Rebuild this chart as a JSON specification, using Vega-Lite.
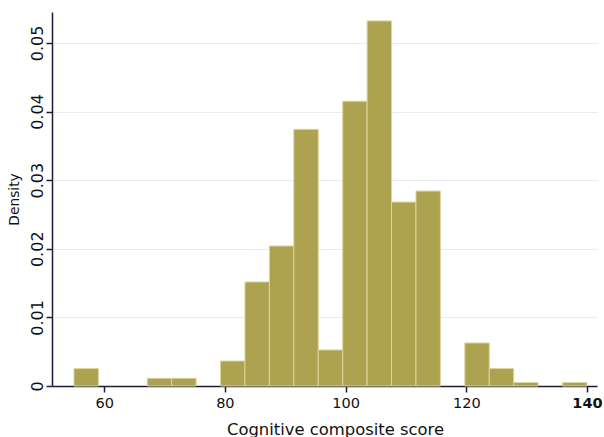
{
  "$schema": "https://vega.github.io/schema/vega-lite/v6.json",
  "width": 545,
  "height": 374,
  "autosize": "none",
  "padding": {"left": 52, "top": 12, "right": 7, "bottom": 51},
  "background": "white",
  "config": {
    "view": {"stroke": null},
    "font": "DejaVu Sans"
  },
  "data": {
    "values": [
      {"start": 55.0, "end": 59.048, "density": 0.00254},
      {"start": 67.143, "end": 71.190, "density": 0.00112},
      {"start": 71.190, "end": 75.238, "density": 0.00112},
      {"start": 79.286, "end": 83.333, "density": 0.00364},
      {"start": 83.333, "end": 87.381, "density": 0.01516},
      {"start": 87.381, "end": 91.429, "density": 0.0204},
      {"start": 91.429, "end": 95.476, "density": 0.0374},
      {"start": 95.476, "end": 99.524, "density": 0.00525},
      {"start": 99.524, "end": 103.571, "density": 0.0415},
      {"start": 103.571, "end": 107.619, "density": 0.0532},
      {"start": 107.619, "end": 111.667, "density": 0.0268},
      {"start": 111.667, "end": 115.714, "density": 0.0284},
      {"start": 119.762, "end": 123.810, "density": 0.00627},
      {"start": 123.810, "end": 127.857, "density": 0.00254},
      {"start": 127.857, "end": 131.905, "density": 0.0005},
      {"start": 135.952, "end": 140.0, "density": 0.0005}
    ]
  },
  "mark": {"type": "bar", "color": "#ada24f", "stroke": "#dcd59e", "strokeWidth": 1},
  "encoding": {
    "x": {
      "field": "start",
      "type": "quantitative",
      "scale": {"domain": [51.36, 141.66], "nice": false, "zero": false},
      "axis": {
        "values": [60, 80, 100, 120, 140],
        "title": "Cognitive composite score",
        "titleFontSize": 16.4,
        "titleFontWeight": "normal",
        "titleColor": "#111",
        "titleX": 283,
        "titleY": 48,
        "titleAlign": "center",
        "titleBaseline": "alphabetic",
        "labelFontSize": 14.5,
        "labelColor": "#111",
        "labelPadding": 4,
        "labelFontWeight": {"condition": {"test": "datum.value == 140", "value": "bold"}, "value": "normal"},
        "domainColor": "#1c1c38",
        "domainWidth": 1.5,
        "tickColor": "#1c1c38",
        "tickWidth": 1.5,
        "tickSize": 6,
        "grid": false,
        "labelFlush": false
      }
    },
    "x2": {"field": "end"},
    "y": {
      "field": "density",
      "type": "quantitative",
      "scale": {"domain": [0, 0.0545], "nice": false},
      "axis": {
        "values": [0, 0.01, 0.02, 0.03, 0.04, 0.05],
        "labelExpr": "datum.value == 0 ? '0' : format(datum.value, '.2f')",
        "title": "Density",
        "titleFontSize": 13.8,
        "titleFontWeight": "normal",
        "titleColor": "#111",
        "titleX": -34,
        "titleY": 187,
        "titleAlign": "center",
        "titleBaseline": "alphabetic",
        "titleAngle": 270,
        "labelFontSize": 16,
        "labelColor": "#111",
        "labelAngle": -90,
        "labelAlign": "center",
        "labelBaseline": "alphabetic",
        "labelPadding": 4,
        "domainColor": "#1c1c38",
        "domainWidth": 1.5,
        "tickColor": "#1c1c38",
        "tickWidth": 1.5,
        "tickSize": 6,
        "grid": true,
        "gridColor": "#e3edf1",
        "gridWidth": 1,
        "labelFlush": false
      }
    },
    "y2": {"datum": 0}
  }
}
